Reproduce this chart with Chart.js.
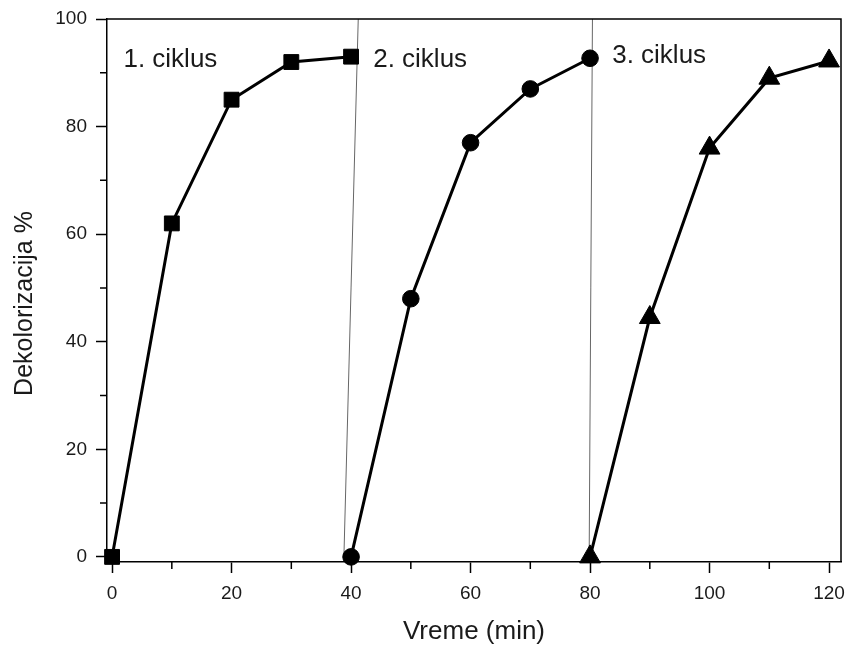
<!DOCTYPE html>
<html>
<head>
<meta charset="utf-8">
<script src="https://cdn.jsdelivr.net/npm/chart.js@4.4.1/dist/chart.umd.min.js"></script>
<style>
  html, body { margin: 0; padding: 0; background: #fff; }
  #wrap { width: 850px; height: 650px; position: relative; }
</style>
</head>
<body>
<div id="wrap"><canvas id="c" width="850" height="650"></canvas></div>
<script>
// ---- data ----
const time1 = [0, 10, 20, 30, 40];
const cycle1 = [0, 62, 85, 92, 93];
const time2 = [40, 50, 60, 70, 80];
const cycle2 = [0, 48, 77, 87, 92.7];
const time3 = [80, 90, 100, 110, 120];
const cycle3 = [0, 44.5, 76, 89, 92.2];
const sep1X = [41.2, 38.8];
const sep1Y = [100, 0];
const sep2X = [80.4, 79.85];
const sep2Y = [100, 0];
const cycleLabels = ['1. ciklus', '2. ciklus', '3. ciklus'];
const xTicks = [0, 20, 40, 60, 80, 100, 120];
const yTicks = [0, 20, 40, 60, 80, 100];
const xMinorTicks = [10, 30, 50, 70, 90, 110];
const yMinorTicks = [10, 30, 50, 70, 90];
const yTitle = 'Dekolorizacija %';

const pts = (xs, ys) => xs.map((x, i) => ({x: x, y: ys[i]}));

// label anchors (left/middle) in data coordinates
const labelAnchors = [[1.9, 92.4], [43.7, 92.4], [83.7, 93.1]];

const FONT = "'Liberation Sans', Arial, sans-serif";
const TXT = '#1a1a1a';

const extras = {
  id: 'extras',
  afterDatasetsDraw(chart) {
    const {ctx, chartArea: a, scales: {x, y}} = chart;
    ctx.save();
    // frame top/right
    ctx.strokeStyle = '#000';
    ctx.lineWidth = 1.5;
    ctx.beginPath();
    ctx.moveTo(a.left, a.top); ctx.lineTo(a.right, a.top); ctx.lineTo(a.right, a.bottom);
    ctx.stroke();
    // minor ticks
    ctx.beginPath();
    xMinorTicks.forEach(v => { const px = x.getPixelForValue(v); ctx.moveTo(px, a.bottom); ctx.lineTo(px, a.bottom + 7); });
    yMinorTicks.forEach(v => { const py = y.getPixelForValue(v); ctx.moveTo(a.left, py); ctx.lineTo(a.left - 7, py); });
    ctx.stroke();
    // cycle labels
    ctx.fillStyle = TXT;
    ctx.font = '26px ' + FONT;
    ctx.textAlign = 'left';
    ctx.textBaseline = 'middle';
    cycleLabels.forEach((t, i) => {
      ctx.fillText(t, x.getPixelForValue(labelAnchors[i][0]), y.getPixelForValue(labelAnchors[i][1]));
    });
    // y axis title
    ctx.translate(25, (a.top + a.bottom) / 2 + 13);
    ctx.rotate(-Math.PI / 2);
    ctx.font = '25px ' + FONT;
    ctx.textAlign = 'center';
    ctx.fillText(yTitle, 0, 0);
    ctx.restore();
  }
};

const seriesStyle = {
  borderColor: '#000', backgroundColor: '#000',
  pointBackgroundColor: '#000', pointBorderColor: '#000',
  borderWidth: 3, showLine: true, pointBorderWidth: 1
};

new Chart(document.getElementById('c'), {
  type: 'scatter',
  data: {
    datasets: [
      {data: pts(sep1X, sep1Y), showLine: true, borderColor: '#666', borderWidth: 1, pointRadius: 0, order: 5},
      {data: pts(sep2X, sep2Y), showLine: true, borderColor: '#666', borderWidth: 1, pointRadius: 0, order: 5},
      Object.assign({data: pts(time1, cycle1), pointStyle: 'rect', pointRadius: 10.5}, seriesStyle),
      Object.assign({data: pts(time2, cycle2), pointStyle: 'circle', pointRadius: 8.3}, seriesStyle),
      Object.assign({data: pts(time3, cycle3), pointStyle: 'triangle', pointRadius: 12}, seriesStyle)
    ]
  },
  options: {
    responsive: false,
    animation: false,
    clip: false,
    layout: {autoPadding: false, padding: {top: 19, right: 9, left: 0, bottom: 0}},
    plugins: {legend: {display: false}, tooltip: {enabled: false}},
    scales: {
      x: {
        type: 'linear', min: -0.85, max: 122,
        afterBuildTicks: s => { s.ticks = xTicks.map(v => ({value: v})); },
        afterFit: s => { s.height = 88; s.paddingLeft = 0; s.paddingRight = 0; },
        grid: {display: true, drawOnChartArea: false, drawTicks: true, tickLength: 11, tickColor: '#000', tickWidth: 1.5},
        border: {display: true, color: '#000', width: 1.5},
        ticks: {color: TXT, font: {family: FONT, size: 19}, padding: 9, maxRotation: 0},
        title: {display: true, text: 'Vreme (min)', color: TXT, font: {family: FONT, size: 26}, padding: {top: 0, bottom: 3}}
      },
      y: {
        type: 'linear', min: -0.95, max: 100,
        afterBuildTicks: s => { s.ticks = yTicks.map(v => ({value: v})); },
        afterFit: s => { s.width = 107; s.paddingTop = 0; s.paddingBottom = 0; },
        grid: {display: true, drawOnChartArea: false, drawTicks: true, tickLength: 11, tickColor: '#000', tickWidth: 1.5},
        border: {display: true, color: '#000', width: 1.5},
        ticks: {color: TXT, font: {family: FONT, size: 19}, padding: 9},
        title: {display: false}
      }
    }
  },
  plugins: [extras]
});
</script>
</body>
</html>
